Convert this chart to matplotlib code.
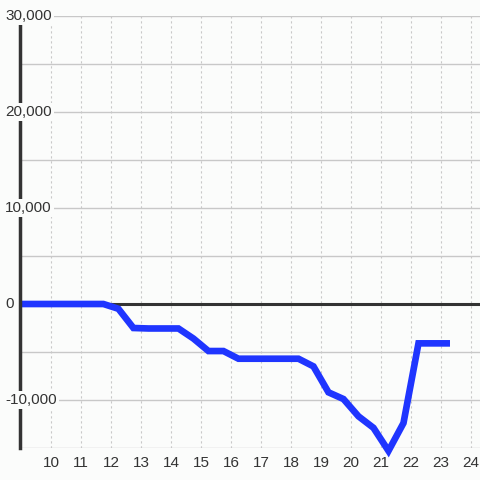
import matplotlib
matplotlib.use('Agg')
import matplotlib.pyplot as plt
import numpy as np

# Data (hour of day vs cumulative value)
hours = [8.97, 9.25, 9.75, 10.25, 10.75, 11.25, 11.75, 12.25, 12.75, 13.25,
         13.75, 14.25, 14.75, 15.25, 15.75, 16.25, 16.75, 17.25, 17.75, 18.25,
         18.75, 19.25, 19.75, 20.25, 20.75, 21.25, 21.75, 22.25, 22.75, 23.3]
values = [0, 0, 0, 0, 0, 0, 0, -500, -2500, -2550,
          -2550, -2550, -3600, -4900, -4900, -5700, -5700, -5700, -5700, -5700,
          -6500, -9200, -9900, -11700, -12900, -15300, -12400, -4100, -4100, -4100]
x_ticks = list(range(10, 25))
y_labels = [30000, 20000, 10000, 0, -10000]

plt.rcParams['font.family'] = ['Liberation Sans', 'DejaVu Sans']

bg = '#fbfcfb'
fig = plt.figure(figsize=(4.8, 4.8), dpi=100, facecolor=bg)
ax = fig.add_axes([20/480, 32/480, 460/480, 432/480], facecolor=bg)

ax.set_xlim(8.97, 24.3)
ax.set_ylim(-15000, 30000)

# grid
for yv in range(-15000, 30001, 5000):
    ax.axhline(yv, color='#c8c8c8', lw=1, zorder=1)
for xv in x_ticks:
    ax.axvline(xv, color='#c8c8c8', lw=0.8, ls=(0, (2, 2.5)), zorder=1)

ax.axhline(0, color='#333333', lw=2.2, zorder=2)

ax.plot(hours, values, color='#1f35ff', lw=4.8, zorder=3,
        solid_joinstyle='miter', solid_capstyle='butt', clip_on=False)

for s in ['top', 'right', 'bottom']:
    ax.spines[s].set_visible(False)
ax.spines['left'].set_color('#333333')
ax.spines['left'].set_linewidth(2.5)
ax.spines['left'].set_zorder(4)

ax.set_yticks([])
ax.set_xticks(x_ticks)
ax.set_xticklabels([str(x) for x in x_ticks], fontsize=11, color='#333333')
ax.tick_params(axis='x', length=0, pad=6)

for yv in y_labels:
    ax.text(-15/460, (yv + 15000) / 45000, f'{yv:,}', transform=ax.transAxes,
            ha='left', va='center', fontsize=11, color='#333333', zorder=5,
            bbox=dict(facecolor=bg, edgecolor='none', pad=1.5), clip_on=False)

fig.savefig('out.png', dpi=100, facecolor=bg)
